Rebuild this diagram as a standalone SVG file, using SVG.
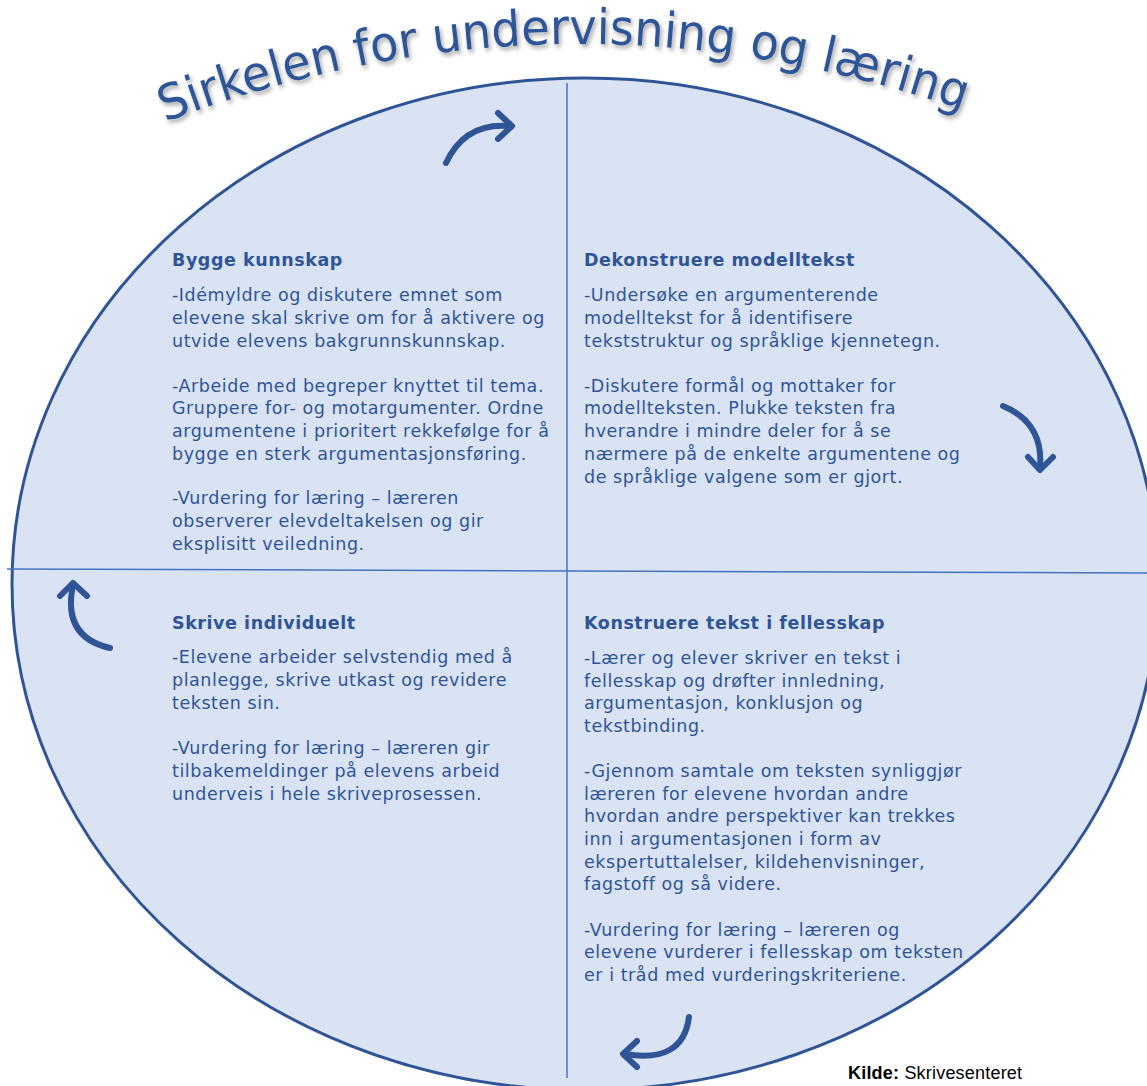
<svg xmlns="http://www.w3.org/2000/svg" width="1147" height="1086" viewBox="0 0 1147 1086">
  <defs>
    <filter id="shadow" x="-5%" y="-20%" width="110%" height="150%">
      <feDropShadow dx="2" dy="3" stdDeviation="2" flood-color="#000" flood-opacity="0.35"/>
    </filter>
    <path id="titleArc" d="M 150 128 Q 565 -35 985 118"/>
    <style>
      .body { font-family: "DejaVu Sans", Verdana, sans-serif; font-size: 17.5px; letter-spacing: 0.55px; fill: #2f5597; }
      .head { font-family: "DejaVu Sans", Verdana, sans-serif; font-size: 17.5px; letter-spacing: 0.55px; font-weight: bold; fill: #2f5597; }
      .title { font-family: "DejaVu Sans Condensed", "DejaVu Sans", sans-serif; font-size: 49px; fill: #2f5597; }
      .arrow { fill: none; stroke: #2f5597; stroke-width: 6; stroke-linecap: round; stroke-linejoin: round; }
      .divider { stroke: #4472c4; stroke-width: 1.5; fill: none; }
      .src { font-family: "Liberation Sans", Arial, sans-serif; font-size: 18px; letter-spacing: 0.2px; fill: #000; }
    </style>
  </defs>
  <rect width="1147" height="1086" fill="#ffffff"/>

  <g id="circle">
    <ellipse cx="585" cy="584" rx="573" ry="506" fill="#dae3f3" stroke="#2f5597" stroke-width="3"/>
  </g>

  <g id="connectors">
    <line class="divider" x1="567" y1="83" x2="567" y2="1078"/>
    <line class="divider" x1="7" y1="569" x2="1147" y2="573"/>
    <g id="arrow-top">
      <path class="arrow" d="M446,163 Q465,122 510,126"/>
      <path class="arrow" d="M498,113 L512,126 L498,139"/>
    </g>
    <g id="arrow-right">
      <path class="arrow" d="M1003,406 Q1044,423 1040,468"/>
      <path class="arrow" d="M1028,457 L1040,470 L1053,457"/>
    </g>
    <g id="arrow-bottom">
      <path class="arrow" d="M689,1017 Q683,1064 625,1054"/>
      <path class="arrow" d="M637,1041 L623,1054 L637,1067"/>
    </g>
    <g id="arrow-left">
      <path class="arrow" d="M110,648 Q62,637 73,585"/>
      <path class="arrow" d="M60,596 L73,583 L87,596"/>
    </g>
  </g>

  <g id="title" filter="url(#shadow)">
    <text class="title"><textPath href="#titleArc" startOffset="16" textLength="815" lengthAdjust="spacingAndGlyphs">Sirkelen for undervisning og læring</textPath></text>
  </g>

  <g id="node-bygge">
    <text class="head" x="172" y="266">Bygge kunnskap</text>
    <text class="body">
      <tspan x="172" y="301">-Idémyldre og diskutere emnet som</tspan>
      <tspan x="172" y="324">elevene skal skrive om for å aktivere og</tspan>
      <tspan x="172" y="347">utvide elevens bakgrunnskunnskap.</tspan>
      <tspan x="172" y="392">-Arbeide med begreper knyttet til tema.</tspan>
      <tspan x="172" y="414">Gruppere for- og motargumenter. Ordne</tspan>
      <tspan x="172" y="437">argumentene i prioritert rekkefølge for å</tspan>
      <tspan x="172" y="460">bygge en sterk argumentasjonsføring.</tspan>
      <tspan x="172" y="504">-Vurdering for læring – læreren</tspan>
      <tspan x="172" y="527">observerer elevdeltakelsen og gir</tspan>
      <tspan x="172" y="550">eksplisitt veiledning.</tspan>
    </text>
  </g>

  <g id="node-dekonstruere">
    <text class="head" x="584" y="266">Dekonstruere modelltekst</text>
    <text class="body">
      <tspan x="584" y="301">-Undersøke en argumenterende</tspan>
      <tspan x="584" y="324">modelltekst for å identifisere</tspan>
      <tspan x="584" y="347">tekststruktur og språklige kjennetegn.</tspan>
      <tspan x="584" y="392">-Diskutere formål og mottaker for</tspan>
      <tspan x="584" y="414">modellteksten. Plukke teksten fra</tspan>
      <tspan x="584" y="437">hverandre i mindre deler for å se</tspan>
      <tspan x="584" y="460">nærmere på de enkelte argumentene og</tspan>
      <tspan x="584" y="483">de språklige valgene som er gjort.</tspan>
    </text>
  </g>

  <g id="node-skrive">
    <text class="head" x="172" y="629">Skrive individuelt</text>
    <text class="body">
      <tspan x="172" y="663">-Elevene arbeider selvstendig med å</tspan>
      <tspan x="172" y="686">planlegge, skrive utkast og revidere</tspan>
      <tspan x="172" y="709">teksten sin.</tspan>
      <tspan x="172" y="754">-Vurdering for læring – læreren gir</tspan>
      <tspan x="172" y="777">tilbakemeldinger på elevens arbeid</tspan>
      <tspan x="172" y="800">underveis i hele skriveprosessen.</tspan>
    </text>
  </g>

  <g id="node-konstruere">
    <text class="head" x="584" y="629">Konstruere tekst i fellesskap</text>
    <text class="body">
      <tspan x="584" y="664">-Lærer og elever skriver en tekst i</tspan>
      <tspan x="584" y="687">fellesskap og drøfter innledning,</tspan>
      <tspan x="584" y="709">argumentasjon, konklusjon og</tspan>
      <tspan x="584" y="732">tekstbinding.</tspan>
      <tspan x="584" y="777">-Gjennom samtale om teksten synliggjør</tspan>
      <tspan x="584" y="800">læreren for elevene hvordan andre</tspan>
      <tspan x="584" y="822">hvordan andre perspektiver kan trekkes</tspan>
      <tspan x="584" y="845">inn i argumentasjonen i form av</tspan>
      <tspan x="584" y="868">ekspertuttalelser, kildehenvisninger,</tspan>
      <tspan x="584" y="890">fagstoff og så videre.</tspan>
      <tspan x="584" y="936">-Vurdering for læring – læreren og</tspan>
      <tspan x="584" y="958">elevene vurderer i fellesskap om teksten</tspan>
      <tspan x="584" y="981">er i tråd med vurderingskriteriene.</tspan>
    </text>
  </g>

  <g id="source">
    <text class="src" x="848" y="1079"><tspan font-weight="bold">Kilde:</tspan> Skrivesenteret</text>
  </g>
</svg>
